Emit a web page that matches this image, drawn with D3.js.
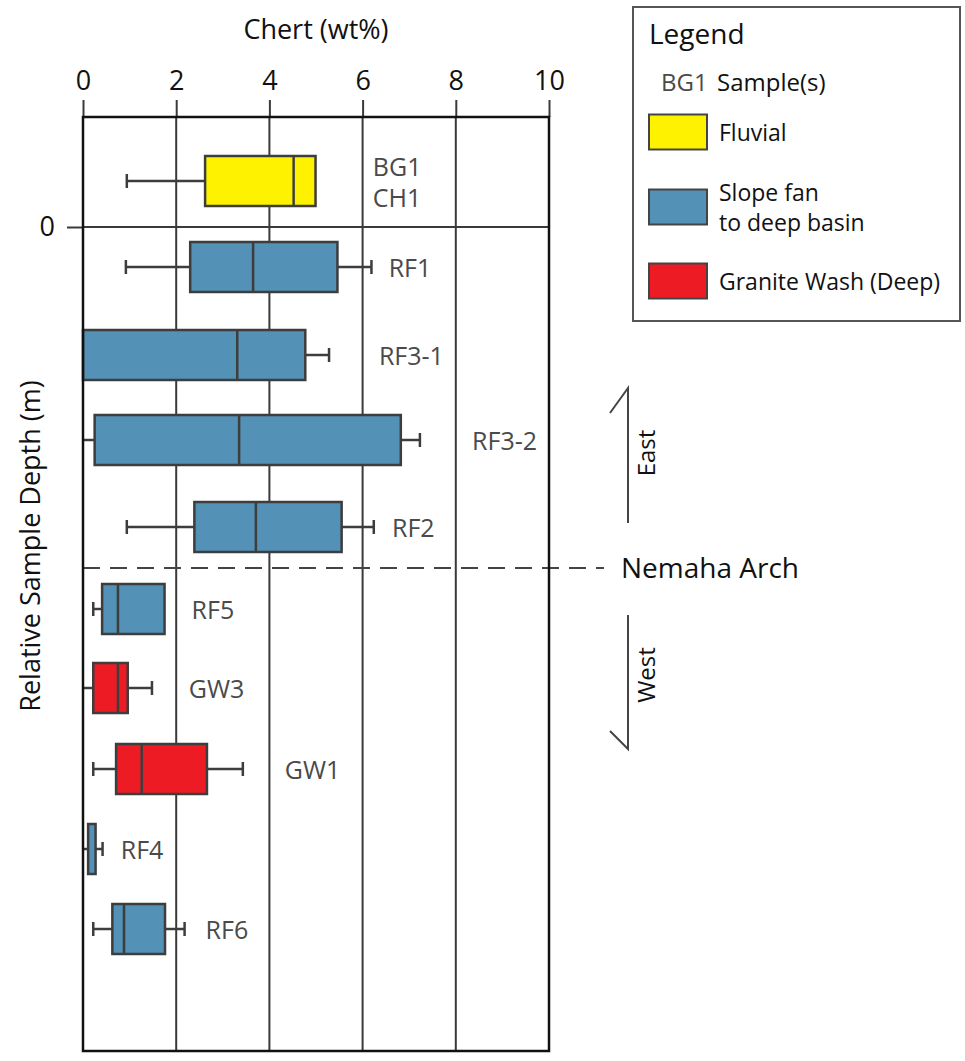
<!DOCTYPE html>
<html>
<head>
<meta charset="utf-8">
<script src="https://cdn.jsdelivr.net/npm/d3@7"></script>
<style>
  body { margin: 0; background: #fff; }
  svg text { font-family: "Open Sans", "Noto Sans", sans-serif; }
</style>
</head>
<body>
<div id="chart"></div>
<script>
// sample rows, top to bottom
var samples = ["BG1/CH1", "RF1", "RF3-1", "RF3-2", "RF2", "RF5", "GW3", "GW1", "RF4", "RF6"];
var sampleLabels = [["BG1", "CH1"], ["RF1"], ["RF3-1"], ["RF3-2"], ["RF2"], ["RF5"], ["GW3"], ["GW1"], ["RF4"], ["RF6"]];
var facies = ["Fluvial", "Slope", "Slope", "Slope", "Slope", "Slope", "Granite", "Granite", "Slope", "Slope"];
// relative depth of each row (arbitrary units, 0 = depth zero)
var depth = [-4.6, 4.0, 12.8, 21.3, 30.0, 38.2, 46.1, 54.2, 62.2, 70.2];
var archDepth = 34.1;

// chert wt% box stats
var whiskerLow  = [0.94, 0.92, 0.00, 0.00, 0.94, 0.22, 0.00, 0.22, 0.00, 0.22];
var q1          = [2.62, 2.30, 0.00, 0.25, 2.39, 0.41, 0.22, 0.71, 0.11, 0.63];
var median      = [4.52, 3.65, 3.31, 3.35, 3.71, 0.75, 0.75, 1.26, null, 0.88];
var q3          = [4.99, 5.46, 4.77, 6.82, 5.55, 1.75, 0.96, 2.66, 0.27, 1.76];
var whiskerHigh = [4.99, 6.19, 5.28, 7.23, 6.24, 1.75, 1.48, 3.43, 0.42, 2.18];
// where each sample name sits, in wt%
var labelAt     = [6.22, 6.56, 6.35, 8.35, 6.63, 2.33, 2.27, 4.33, 0.81, 2.63];

var xTicks = [0, 2, 4, 6, 8, 10];

var faciesKeys = ["Fluvial", "Slope", "Granite"];
var faciesNames = [["Fluvial"], ["Slope fan", "to deep basin"], ["Granite Wash (Deep)"]];
var faciesColors = ["#fff200", "#5391b6", "#ed1c24"];

var data = samples.map(function (s, i) {
    return {
        sample: s, label: sampleLabels[i], facies: facies[i], depth: depth[i],
        lo: whiskerLow[i], q1: q1[i], med: median[i], q3: q3[i], hi: whiskerHigh[i],
        labelAt: labelAt[i]
    };
});

var svgWidth = 965, svgHeight = 1061;
var margin = { top: 117, left: 83, right: 416, bottom: 10 };

var svg = d3.select("#chart").append("svg")
    .attr("width", svgWidth)
    .attr("height", svgHeight);

var x = d3.scaleLinear().domain([0, 10]).range([margin.left, svgWidth - margin.right]);
var y = d3.scaleLinear().domain([0, 10]).range([227, 327]);
var color = d3.scaleOrdinal().domain(faciesKeys).range(faciesColors);

var plotTop = margin.top, plotBottom = svgHeight - margin.bottom;
var zeroY = y(0);
var archY = y(archDepth);

// vertical grid lines
svg.append("g").selectAll("line")
    .data(xTicks.slice(1, -1))
    .enter().append("line")
    .attr("x1", d => x(d)).attr("x2", d => x(d))
    .attr("y1", plotTop).attr("y2", plotBottom)
    .attr("stroke", "#3a3a3a").attr("stroke-width", 2);

// depth axis: only the zero tick
var axisLeft = svg.append("g")
    .attr("transform", "translate(" + x(0) + ",0)")
    .call(d3.axisLeft(y).tickValues([0]).tickSize(16).tickPadding(12));
axisLeft.select(".domain").remove();
axisLeft.selectAll(".tick line").attr("stroke", "#3a3a3a").attr("stroke-width", 2);
axisLeft.selectAll(".tick text")
    .attr("font-size", 27).attr("fill", "#111")
    .style("font-family", "'Open Sans', sans-serif");
svg.append("line")
    .attr("x1", x(0)).attr("x2", x(10))
    .attr("y1", zeroY).attr("y2", zeroY)
    .attr("stroke", "#3a3a3a").attr("stroke-width", 2);

// Nemaha Arch dashed line
svg.append("line")
    .attr("x1", x(0)).attr("x2", 604)
    .attr("y1", archY).attr("y2", archY)
    .attr("stroke", "#444").attr("stroke-width", 2)
    .attr("stroke-dasharray", "17,10");

// top axis
var axisTop = svg.append("g")
    .attr("transform", "translate(0," + plotTop + ")")
    .call(d3.axisTop(x).tickValues(xTicks).tickSize(17).tickPadding(10));
axisTop.select(".domain").remove();
axisTop.selectAll(".tick line").attr("stroke", "#3a3a3a").attr("stroke-width", 2);
axisTop.selectAll(".tick text")
    .attr("font-size", 27).attr("fill", "#111")
    .style("font-family", "'Open Sans', sans-serif");

svg.append("text")
    .attr("x", (x(0) + x(10)) / 2).attr("y", 39)
    .attr("text-anchor", "middle")
    .attr("font-size", 27).attr("fill", "#111")
    .text("Chert (wt%)");

svg.append("text")
    .attr("transform", "translate(40," + 546 + ") rotate(-90)")
    .attr("text-anchor", "middle")
    .attr("font-size", 27).attr("fill", "#111")
    .text("Relative Sample Depth (m)");

// boxes
var half = 25, cap = 7;
var rows = svg.append("g").selectAll("g")
    .data(data)
    .enter().append("g")
    .attr("transform", d => "translate(0," + y(d.depth) + ")");

rows.filter(d => d.lo < d.q1).append("line")
    .attr("x1", d => x(d.lo)).attr("x2", d => x(d.q1))
    .attr("stroke", "#3d3d3d").attr("stroke-width", 2.5);
rows.filter(d => d.lo < d.q1 && d.lo > 0).append("line")
    .attr("x1", d => x(d.lo)).attr("x2", d => x(d.lo))
    .attr("y1", -cap).attr("y2", cap)
    .attr("stroke", "#3d3d3d").attr("stroke-width", 2.5);
rows.filter(d => d.hi > d.q3).append("line")
    .attr("x1", d => x(d.q3)).attr("x2", d => x(d.hi))
    .attr("stroke", "#3d3d3d").attr("stroke-width", 2.5);
rows.filter(d => d.hi > d.q3).append("line")
    .attr("x1", d => x(d.hi)).attr("x2", d => x(d.hi))
    .attr("y1", -cap).attr("y2", cap)
    .attr("stroke", "#3d3d3d").attr("stroke-width", 2.5);

rows.append("rect")
    .attr("x", d => x(d.q1))
    .attr("y", -half)
    .attr("width", d => x(d.q3) - x(d.q1))
    .attr("height", half * 2)
    .attr("fill", d => color(d.facies))
    .attr("stroke", "#3d3d3d").attr("stroke-width", 2.5);

rows.filter(d => d.med != null).append("line")
    .attr("x1", d => x(d.med)).attr("x2", d => x(d.med))
    .attr("y1", -half).attr("y2", half)
    .attr("stroke", "#3d3d3d").attr("stroke-width", 2.5);

rows.each(function (d) {
    var n = d.label.length;
    d3.select(this).selectAll("text.lab")
        .data(d.label)
        .enter().append("text")
        .attr("class", "lab")
        .attr("x", x(d.labelAt))
        .attr("y", (l, i) => 10 + (i - (n - 1) / 2) * 31)
        .attr("font-size", 25).attr("fill", "#4a4a4a")
        .text(l => l);
});

// plot frame
svg.append("rect")
    .attr("x", x(0)).attr("y", plotTop)
    .attr("width", x(10) - x(0)).attr("height", plotBottom - plotTop)
    .attr("fill", "none").attr("stroke", "#111").attr("stroke-width", 2.5);

// East / West arrows
var arrowX = 628;
var dir = svg.append("g").attr("stroke", "#444").attr("stroke-width", 2).attr("fill", "none");
dir.append("path").attr("d", "M" + arrowX + "," + (archY - 45) + "V" + (archY - 180) + "L" + (arrowX - 18) + "," + (archY - 155));
dir.append("path").attr("d", "M" + arrowX + "," + (archY + 47) + "V" + (archY + 181) + "L" + (arrowX - 18) + "," + (archY + 163));
svg.append("text")
    .attr("transform", "translate(655," + (archY - 115) + ") rotate(-90)")
    .attr("text-anchor", "middle").attr("font-size", 24).attr("fill", "#111")
    .text("East");
svg.append("text")
    .attr("transform", "translate(655," + (archY + 107) + ") rotate(-90)")
    .attr("text-anchor", "middle").attr("font-size", 24).attr("fill", "#111")
    .text("West");
svg.append("text")
    .attr("x", 621).attr("y", archY + 10)
    .attr("font-size", 28).attr("fill", "#111")
    .text("Nemaha Arch");

// legend
var legend = svg.append("g");
legend.append("rect")
    .attr("x", 633).attr("y", 7).attr("width", 327).attr("height", 314)
    .attr("fill", "#fff").attr("stroke", "#555").attr("stroke-width", 2);
legend.append("text").attr("x", 649).attr("y", 44)
    .attr("font-size", 28).attr("fill", "#111").text("Legend");
legend.append("text").attr("x", 661).attr("y", 91)
    .attr("font-size", 24).attr("fill", "#4a4a4a").text("BG1");
legend.append("text").attr("x", 717).attr("y", 91)
    .attr("font-size", 24).attr("fill", "#111").text("Sample(s)");

var entries = legend.selectAll("g.entry")
    .data(faciesKeys)
    .enter().append("g")
    .attr("class", "entry")
    .attr("transform", (d, i) => "translate(649," + [132, 207, 281][i] + ")");
entries.append("rect")
    .attr("y", -17.5).attr("width", 58).attr("height", 35)
    .attr("fill", d => color(d))
    .attr("stroke", "#444").attr("stroke-width", 2);
entries.each(function (d, i) {
    var lines = faciesNames[i], n = lines.length;
    d3.select(this).selectAll("text")
        .data(lines)
        .enter().append("text")
        .attr("x", 70)
        .attr("y", (l, j) => 9 + (j - (n - 1) / 2) * 30)
        .attr("font-size", 23).attr("fill", "#111")
        .text(l => l);
});
</script>
</body>
</html>
